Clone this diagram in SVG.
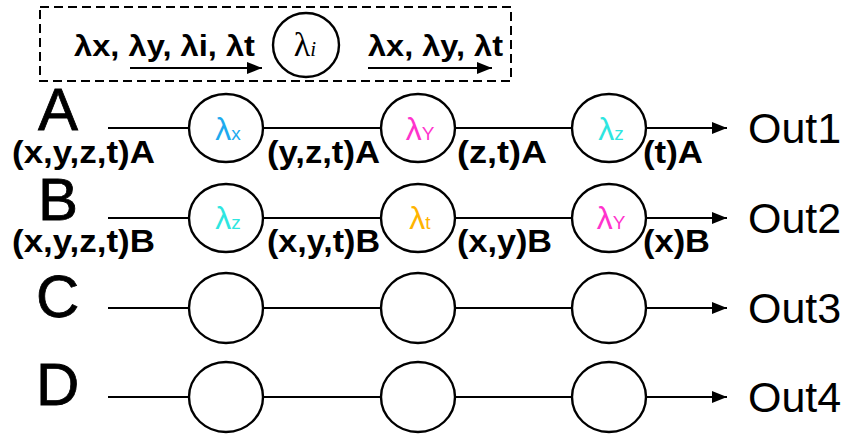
<svg xmlns="http://www.w3.org/2000/svg" width="847" height="436" viewBox="0 0 847 436">
<defs>
<marker id="ah" markerUnits="userSpaceOnUse" markerWidth="16" markerHeight="14" refX="15" refY="6" orient="auto">
<path d="M0,0 L15,6 L0,12 z" fill="#000"/>
</marker>
<style>
.ln{stroke:#000;stroke-width:2.2;fill:none}
.nd{fill:#fff;stroke:#000;stroke-width:2.4}
.big{font-family:"Liberation Sans",Arial,sans-serif;font-size:60px;fill:#000;stroke:#000;stroke-width:0.8}
.lab{font-family:"Liberation Sans",Arial,sans-serif;font-size:31px;font-weight:bold;fill:#000}
.out{font-family:"Liberation Sans",Arial,sans-serif;font-size:43px;fill:#000}
.top{font-family:"Liberation Sans",Arial,sans-serif;font-size:30px;font-weight:bold;fill:#000}
.lam{font-family:"Liberation Sans",Arial,sans-serif;font-size:32px;text-anchor:middle}
.sub{font-size:19px}
.cx{fill:#1eaaee}.cy{fill:#ff33cc}.cz{fill:#2ee6e0}.ct{fill:#ffb400}
</style>
</defs>
<rect width="847" height="436" fill="#fff"/>
<g id="legend">
<rect x="40" y="7" width="471" height="74" fill="none" stroke="#000" stroke-width="2" stroke-dasharray="9 5"/>
<text class="top" x="74" y="56" textLength="181" lengthAdjust="spacingAndGlyphs">λx, λy, λi, λt</text>
<text class="top" x="368" y="56" textLength="135" lengthAdjust="spacingAndGlyphs">λx, λy, λt</text>
<line class="ln" x1="130" y1="68" x2="262" y2="68" marker-end="url(#ah)"/>
<line class="ln" x1="368" y1="68" x2="492" y2="68" marker-end="url(#ah)"/>
<ellipse class="nd" cx="306" cy="45" rx="33" ry="32"/>
<text x="305" y="56" font-family="Liberation Serif,serif" font-size="34" text-anchor="middle">λ<tspan font-style="italic" font-size="21">i</tspan></text>
</g>
<g id="connectors">
<line class="ln" x1="108" y1="128" x2="189" y2="128"/>
<line class="ln" x1="263" y1="128" x2="381" y2="128"/>
<line class="ln" x1="455" y1="128" x2="572" y2="128"/>
<line class="ln" x1="646" y1="128" x2="727" y2="128" marker-end="url(#ah)"/>
<line class="ln" x1="108" y1="218" x2="189" y2="218"/>
<line class="ln" x1="263" y1="218" x2="381" y2="218"/>
<line class="ln" x1="455" y1="218" x2="572" y2="218"/>
<line class="ln" x1="646" y1="218" x2="727" y2="218" marker-end="url(#ah)"/>
<line class="ln" x1="108" y1="308" x2="189" y2="308"/>
<line class="ln" x1="263" y1="308" x2="381" y2="308"/>
<line class="ln" x1="455" y1="308" x2="572" y2="308"/>
<line class="ln" x1="646" y1="308" x2="727" y2="308" marker-end="url(#ah)"/>
<line class="ln" x1="108" y1="397" x2="189" y2="397"/>
<line class="ln" x1="263" y1="397" x2="381" y2="397"/>
<line class="ln" x1="455" y1="397" x2="572" y2="397"/>
<line class="ln" x1="646" y1="397" x2="727" y2="397" marker-end="url(#ah)"/>
</g>
<g id="rowA">
<text class="big" x="38" y="130">A</text>
<text class="lab" x="12" y="163" textLength="143" lengthAdjust="spacingAndGlyphs">(x,y,z,t)A</text>
<text class="lab" x="267" y="163" textLength="113" lengthAdjust="spacingAndGlyphs">(y,z,t)A</text>
<text class="lab" x="457" y="163" textLength="90" lengthAdjust="spacingAndGlyphs">(z,t)A</text>
<text class="lab" x="643" y="163" textLength="60" lengthAdjust="spacingAndGlyphs">(t)A</text>
<text class="out" x="748" y="143">Out1</text>
</g>
<g id="nodeA1"><ellipse class="nd" cx="226" cy="128" rx="37" ry="34"/><text class="lam cx" x="228" y="140">λ<tspan class="sub">x</tspan></text></g>
<g id="nodeA2"><ellipse class="nd" cx="418" cy="128" rx="37" ry="34"/><text class="lam cy" x="420" y="140">λ<tspan class="sub">Y</tspan></text></g>
<g id="nodeA3"><ellipse class="nd" cx="609" cy="128" rx="37" ry="34"/><text class="lam cz" x="611" y="140">λ<tspan class="sub">z</tspan></text></g>
<g id="rowB">
<text class="big" x="38" y="220">B</text>
<text class="lab" x="12" y="252" textLength="143" lengthAdjust="spacingAndGlyphs">(x,y,z,t)B</text>
<text class="lab" x="267" y="252" textLength="113" lengthAdjust="spacingAndGlyphs">(x,y,t)B</text>
<text class="lab" x="457" y="252" textLength="95" lengthAdjust="spacingAndGlyphs">(x,y)B</text>
<text class="lab" x="643" y="252" textLength="67" lengthAdjust="spacingAndGlyphs">(x)B</text>
<text class="out" x="748" y="233">Out2</text>
</g>
<g id="nodeB1"><ellipse class="nd" cx="226" cy="218" rx="37" ry="34"/><text class="lam cz" x="228" y="229">λ<tspan class="sub">z</tspan></text></g>
<g id="nodeB2"><ellipse class="nd" cx="418" cy="218" rx="37" ry="34"/><text class="lam ct" x="420" y="229">λ<tspan class="sub">t</tspan></text></g>
<g id="nodeB3"><ellipse class="nd" cx="609" cy="218" rx="37" ry="34"/><text class="lam cy" x="611" y="229">λ<tspan class="sub">Y</tspan></text></g>
<g id="rowC">
<text class="big" x="36" y="317">C</text>
<text class="out" x="748" y="323">Out3</text>
</g>
<g id="nodeC1"><ellipse class="nd" cx="226" cy="308" rx="37" ry="35"/></g>
<g id="nodeC2"><ellipse class="nd" cx="418" cy="308" rx="37" ry="35"/></g>
<g id="nodeC3"><ellipse class="nd" cx="609" cy="308" rx="37" ry="35"/></g>
<g id="rowD">
<text class="big" x="36" y="405">D</text>
<text class="out" x="748" y="412">Out4</text>
</g>
<g id="nodeD1"><ellipse class="nd" cx="226" cy="397" rx="37" ry="35"/></g>
<g id="nodeD2"><ellipse class="nd" cx="418" cy="397" rx="37" ry="35"/></g>
<g id="nodeD3"><ellipse class="nd" cx="609" cy="397" rx="37" ry="35"/></g>
</svg>
